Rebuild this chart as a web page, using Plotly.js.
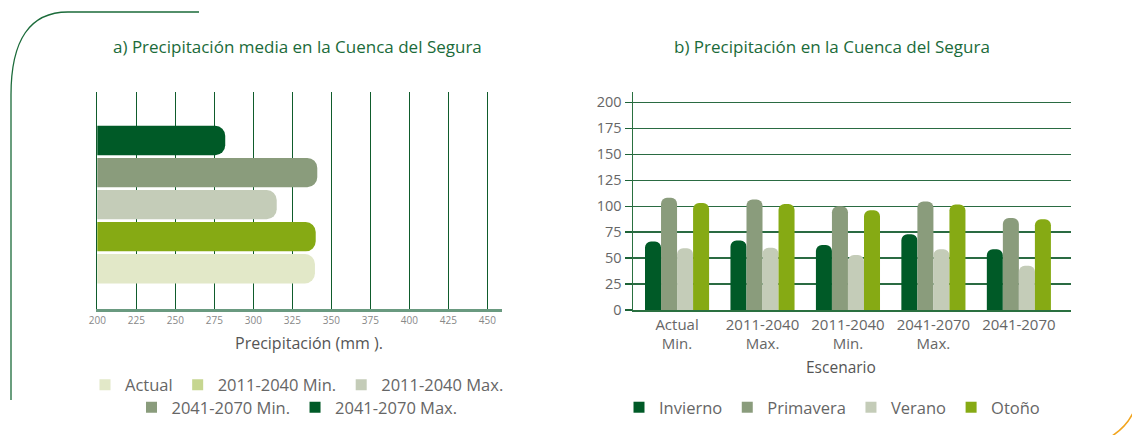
<!DOCTYPE html>
<html>
<head>
<meta charset="utf-8">
<script src="https://cdn.plot.ly/plotly-3.0.1.min.js"></script>
<style>html,body{margin:0;padding:0;background:#fff;}#chart{width:1132px;height:435px;}</style>
</head>
<body>
<div id="chart"></div>
<script>
// ---- Data: a) Precipitación media en la Cuenca del Segura (mm)
const escenarios = ['Actual', '2011-2040 Min.', '2011-2040 Max.', '2041-2070 Min.', '2041-2070 Max.'];
const precipMedia = [339.5, 340, 315, 341, 282];
const barColorsA = ['#e2e8c8', '#86aa14', '#c4ccb8', '#8a9c7c', '#005a27'];
const legendColorsA = ['#e2e8c8', '#c6d690', '#c4ccb8', '#8a9c7c', '#005a27'];
const xTicksA = [200, 225, 250, 275, 300, 325, 350, 375, 400, 425, 450];

// ---- Data: b) Precipitación en la Cuenca del Segura (por estación)
const grupos = ['Actual<br>Min.', '2011-2040<br>Max.', '2011-2040<br>Min.', '2041-2070<br>Max.', '2041-2070'];
const estaciones = ['Invierno', 'Primavera', 'Verano', 'Otoño'];
const invierno = [66, 67, 62.5, 73, 58.5];
const primavera = [108, 106.5, 100, 104.5, 88.5];
const verano = [59.5, 60, 53, 58.5, 42.5];
const otono = [103, 102, 96, 101.5, 87.5];
const coloresB = ['#005a27', '#8a9c7c', '#c4ccb8', '#86aa14'];
const yTicksB = [0, 25, 50, 75, 100, 125, 150, 175, 200];

const W = 1132, H = 435;
const X = px => px / W;
const Y = px => 1 - px / H;

const font = 'Open Sans, Noto Sans, sans-serif';
const txt = '#666666';
const dark = '#0f5c2c';

const traces = [];
// Left chart bars
traces.push({
  type: 'bar', orientation: 'h',
  x: precipMedia, y: escenarios,
  xaxis: 'x', yaxis: 'y',
  width: 0.915,
  marker: {color: barColorsA, cornerradius: 10},
  showlegend: false, hoverinfo: 'skip'
});
// Left legend entries (legend colours as in the original)
escenarios.forEach((name, i) => {
  traces.push({
    type: 'scatter', mode: 'markers', x: [null], y: [null],
    xaxis: 'x', yaxis: 'y', name: name,
    marker: {symbol: 'square', size: 11, color: legendColorsA[i]},
    legend: i < 3 ? 'legend' : 'legend2', showlegend: true
  });
});
// Right chart bars
[invierno, primavera, verano, otono].forEach((vals, i) => {
  traces.push({
    type: 'bar', x: grupos, y: vals, name: estaciones[i],
    xaxis: 'x2', yaxis: 'y2',
    marker: {color: coloresB[i], cornerradius: 6},
    showlegend: false, hoverinfo: 'skip'
  });
  traces.push({
    type: 'scatter', mode: 'markers', x: [null], y: [null],
    xaxis: 'x2', yaxis: 'y2', name: estaciones[i],
    marker: {symbol: 'square', size: 11, color: coloresB[i]},
    legend: 'legend3', showlegend: true
  });
});

const legendBase = {
  orientation: 'h', xanchor: 'center', yanchor: 'middle',
  font: {family: font, size: 16.5, color: txt},
  bgcolor: 'rgba(0,0,0,0)', itemclick: false, itemdoubleclick: false
};

const layout = {
  width: W, height: H,
  margin: {l: 0, r: 0, t: 0, b: 0},
  paper_bgcolor: '#ffffff', plot_bgcolor: 'rgba(0,0,0,0)',
  font: {family: font, color: txt},
  barmode: 'group', bargap: 0.25, bargroupgap: 0,
  xaxis: {
    domain: [X(97.3), X(502)], range: [200, 459.4],
    tickvals: xTicksA, ticks: '', showgrid: true, gridcolor: dark, gridwidth: 1.3,
    zeroline: false, showline: true, linecolor: '#6a9a80', linewidth: 2.5,
    tickfont: {family: font, size: 10, color: '#888888'}, ticklabelstandoff: 0,
    anchor: 'y', automargin: false, fixedrange: true
  },
  yaxis: {
    domain: [Y(309), Y(91.7)], type: 'category', categoryorder: 'array', categoryarray: escenarios,
    range: [-1.257, 5.523], showticklabels: false, ticks: '', showgrid: false,
    zeroline: false, showline: true, linecolor: dark, linewidth: 1.3,
    anchor: 'x', automargin: false, fixedrange: true
  },
  xaxis2: {
    domain: [X(633.3), X(1071)], type: 'category', categoryorder: 'array', categoryarray: grupos,
    range: [-0.512, 4.61], ticks: '', showgrid: false, zeroline: false,
    showline: true, linecolor: '#2a7040', linewidth: 1.8,
    tickfont: {family: font, size: 15, color: txt},
    anchor: 'y2', automargin: false, fixedrange: true
  },
  yaxis2: {
    domain: [Y(310), Y(91.7)], range: [0, 210.2], tickvals: yTicksB,
    ticks: 'outside', ticklen: 7, tickwidth: 1.3, tickcolor: '#1d6337',
    showgrid: true, gridcolor: '#2a6b42', gridwidth: 1.3, zeroline: false,
    showline: true, linecolor: '#2a7040', linewidth: 1.8,
    tickfont: {family: font, size: 14.5, color: txt},
    anchor: 'x2', automargin: false, fixedrange: true
  },
  legend: Object.assign({}, legendBase, {x: X(297), y: Y(385)}),
  legend2: Object.assign({}, legendBase, {x: X(297), y: Y(407.5)}),
  legend3: Object.assign({}, legendBase, {x: X(832), y: Y(407.5)}),
  annotations: [
    {text: 'a) Precipitación media en la Cuenca del Segura', xref: 'paper', yref: 'paper',
     x: X(297.5), y: Y(47), xanchor: 'center', yanchor: 'middle', showarrow: false,
     font: {family: font, size: 17, color: '#1b6b3a'}},
    {text: 'b) Precipitación en la Cuenca del Segura', xref: 'paper', yref: 'paper',
     x: X(832), y: Y(47), xanchor: 'center', yanchor: 'middle', showarrow: false,
     font: {family: font, size: 17, color: '#1b6b3a'}},
    {text: 'Precipitación (mm ).', xref: 'paper', yref: 'paper',
     x: X(309), y: Y(342.5), xanchor: 'center', yanchor: 'middle', showarrow: false,
     font: {family: font, size: 16, color: '#555555'}},
    {text: 'Escenario', xref: 'paper', yref: 'paper',
     x: X(841), y: Y(367), xanchor: 'center', yanchor: 'middle', showarrow: false,
     font: {family: font, size: 15.5, color: '#555555'}}
  ],
  shapes: [
    {type: 'path', xref: 'paper', yref: 'paper', layer: 'above',
     path: `M${X(199)},${Y(12)} L${X(68)},${Y(12)} Q${X(11)},${Y(12)} ${X(11)},${Y(95)} L${X(11)},${Y(400)}`,
     line: {color: '#1b6b3a', width: 1.3}},
    {type: 'path', xref: 'paper', yref: 'paper', layer: 'above',
     path: `M${X(1112)},${Y(436)} Q${X(1126)},${Y(427)} ${X(1133)},${Y(413)}`,
     line: {color: '#f2a51f', width: 1.5}}
  ]
};

Plotly.newPlot('chart', traces, layout, {staticPlot: true, displayModeBar: false});
</script>
</body>
</html>
